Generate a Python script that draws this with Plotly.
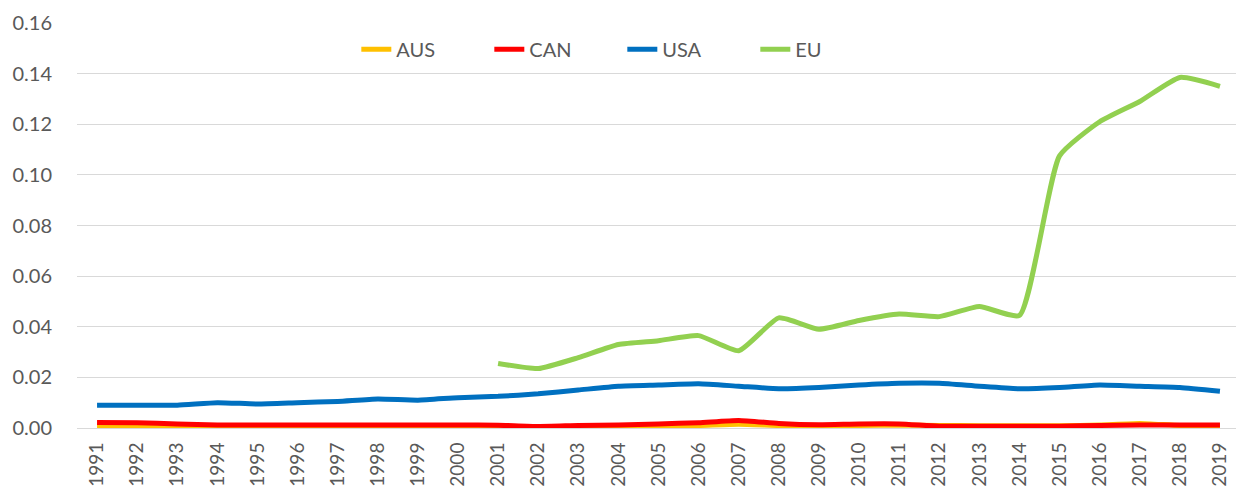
import plotly.graph_objects as go

years = [str(y) for y in range(1991, 2020)]

aus = [0.0008, 0.0008, 0.0006, 0.0005, 0.0005, 0.0005, 0.0005, 0.0005, 0.0005, 0.0005,
       0.0005, 0.0004, 0.0005, 0.0006, 0.0008, 0.0010, 0.0015, 0.0010, 0.0008, 0.0010,
       0.0012, 0.0010, 0.0009, 0.0009, 0.0009, 0.0012, 0.0018, 0.0010, 0.0010]
can = [0.0022, 0.0021, 0.0016, 0.0012, 0.0012, 0.0012, 0.0012, 0.0012, 0.0012, 0.0012,
       0.0011, 0.0006, 0.0010, 0.0012, 0.0016, 0.0021, 0.0030, 0.0018, 0.0013, 0.0016,
       0.0016, 0.0007, 0.0007, 0.0007, 0.0007, 0.0010, 0.0012, 0.0012, 0.0012]
usa = [0.0090, 0.0090, 0.0090, 0.0100, 0.0095, 0.0100, 0.0105, 0.0115, 0.0110, 0.0120,
       0.0125, 0.0135, 0.0150, 0.0165, 0.0170, 0.0175, 0.0165, 0.0155, 0.0160, 0.0170,
       0.0177, 0.0177, 0.0165, 0.0155, 0.0160, 0.0170, 0.0165, 0.0160, 0.0145]
eu = [None] * 10 + [0.0255, 0.0235, 0.0278, 0.0330, 0.0345, 0.0365, 0.0305, 0.0435,
                    0.0390, 0.0425, 0.0450, 0.0440, 0.0480, 0.0445, 0.1075, 0.1210,
                    0.1290, 0.1385, 0.1350]

series = [("AUS", aus, "#ffc000"), ("CAN", can, "#ff0000"),
          ("USA", usa, "#0070c0"), ("EU", eu, "#92d050")]

fig = go.Figure()
for name, vals, color in series:
    fig.add_trace(go.Scatter(
        x=years, y=vals, mode="lines", name=name,
        line=dict(color=color, width=5, shape="spline", smoothing=0.5),
    ))

font = dict(family="Lato, Liberation Sans, sans-serif", size=20, color="#595959")
fig.update_layout(
    width=1236, height=496,
    paper_bgcolor="white", plot_bgcolor="white",
    font=font,
    margin=dict(l=77, r=0, t=23, b=68),
    legend=dict(orientation="h", x=0.241, xanchor="left", y=0.935, yanchor="middle",
                entrywidth=88, font=font, bgcolor="rgba(0,0,0,0)"),
    xaxis=dict(type="category", tickangle=-90, showgrid=False, range=[-0.5, 28.4],
               showline=True, linecolor="#d9d9d9", linewidth=1, ticks="",
               ticklabelstandoff=6, tickfont=dict(size=19)),
    yaxis=dict(range=[0, 0.16], dtick=0.02, tickformat=".2f",
               gridcolor="#d9d9d9", gridwidth=1, zeroline=False,
               ticklabelstandoff=24, tickfont=dict(size=20)),
)

# drop the default page margin so the figure sits at the window's top-left
fig.write_html("out.html", config={"displayModeBar": False},
               post_script="document.body.style.margin='0';")
